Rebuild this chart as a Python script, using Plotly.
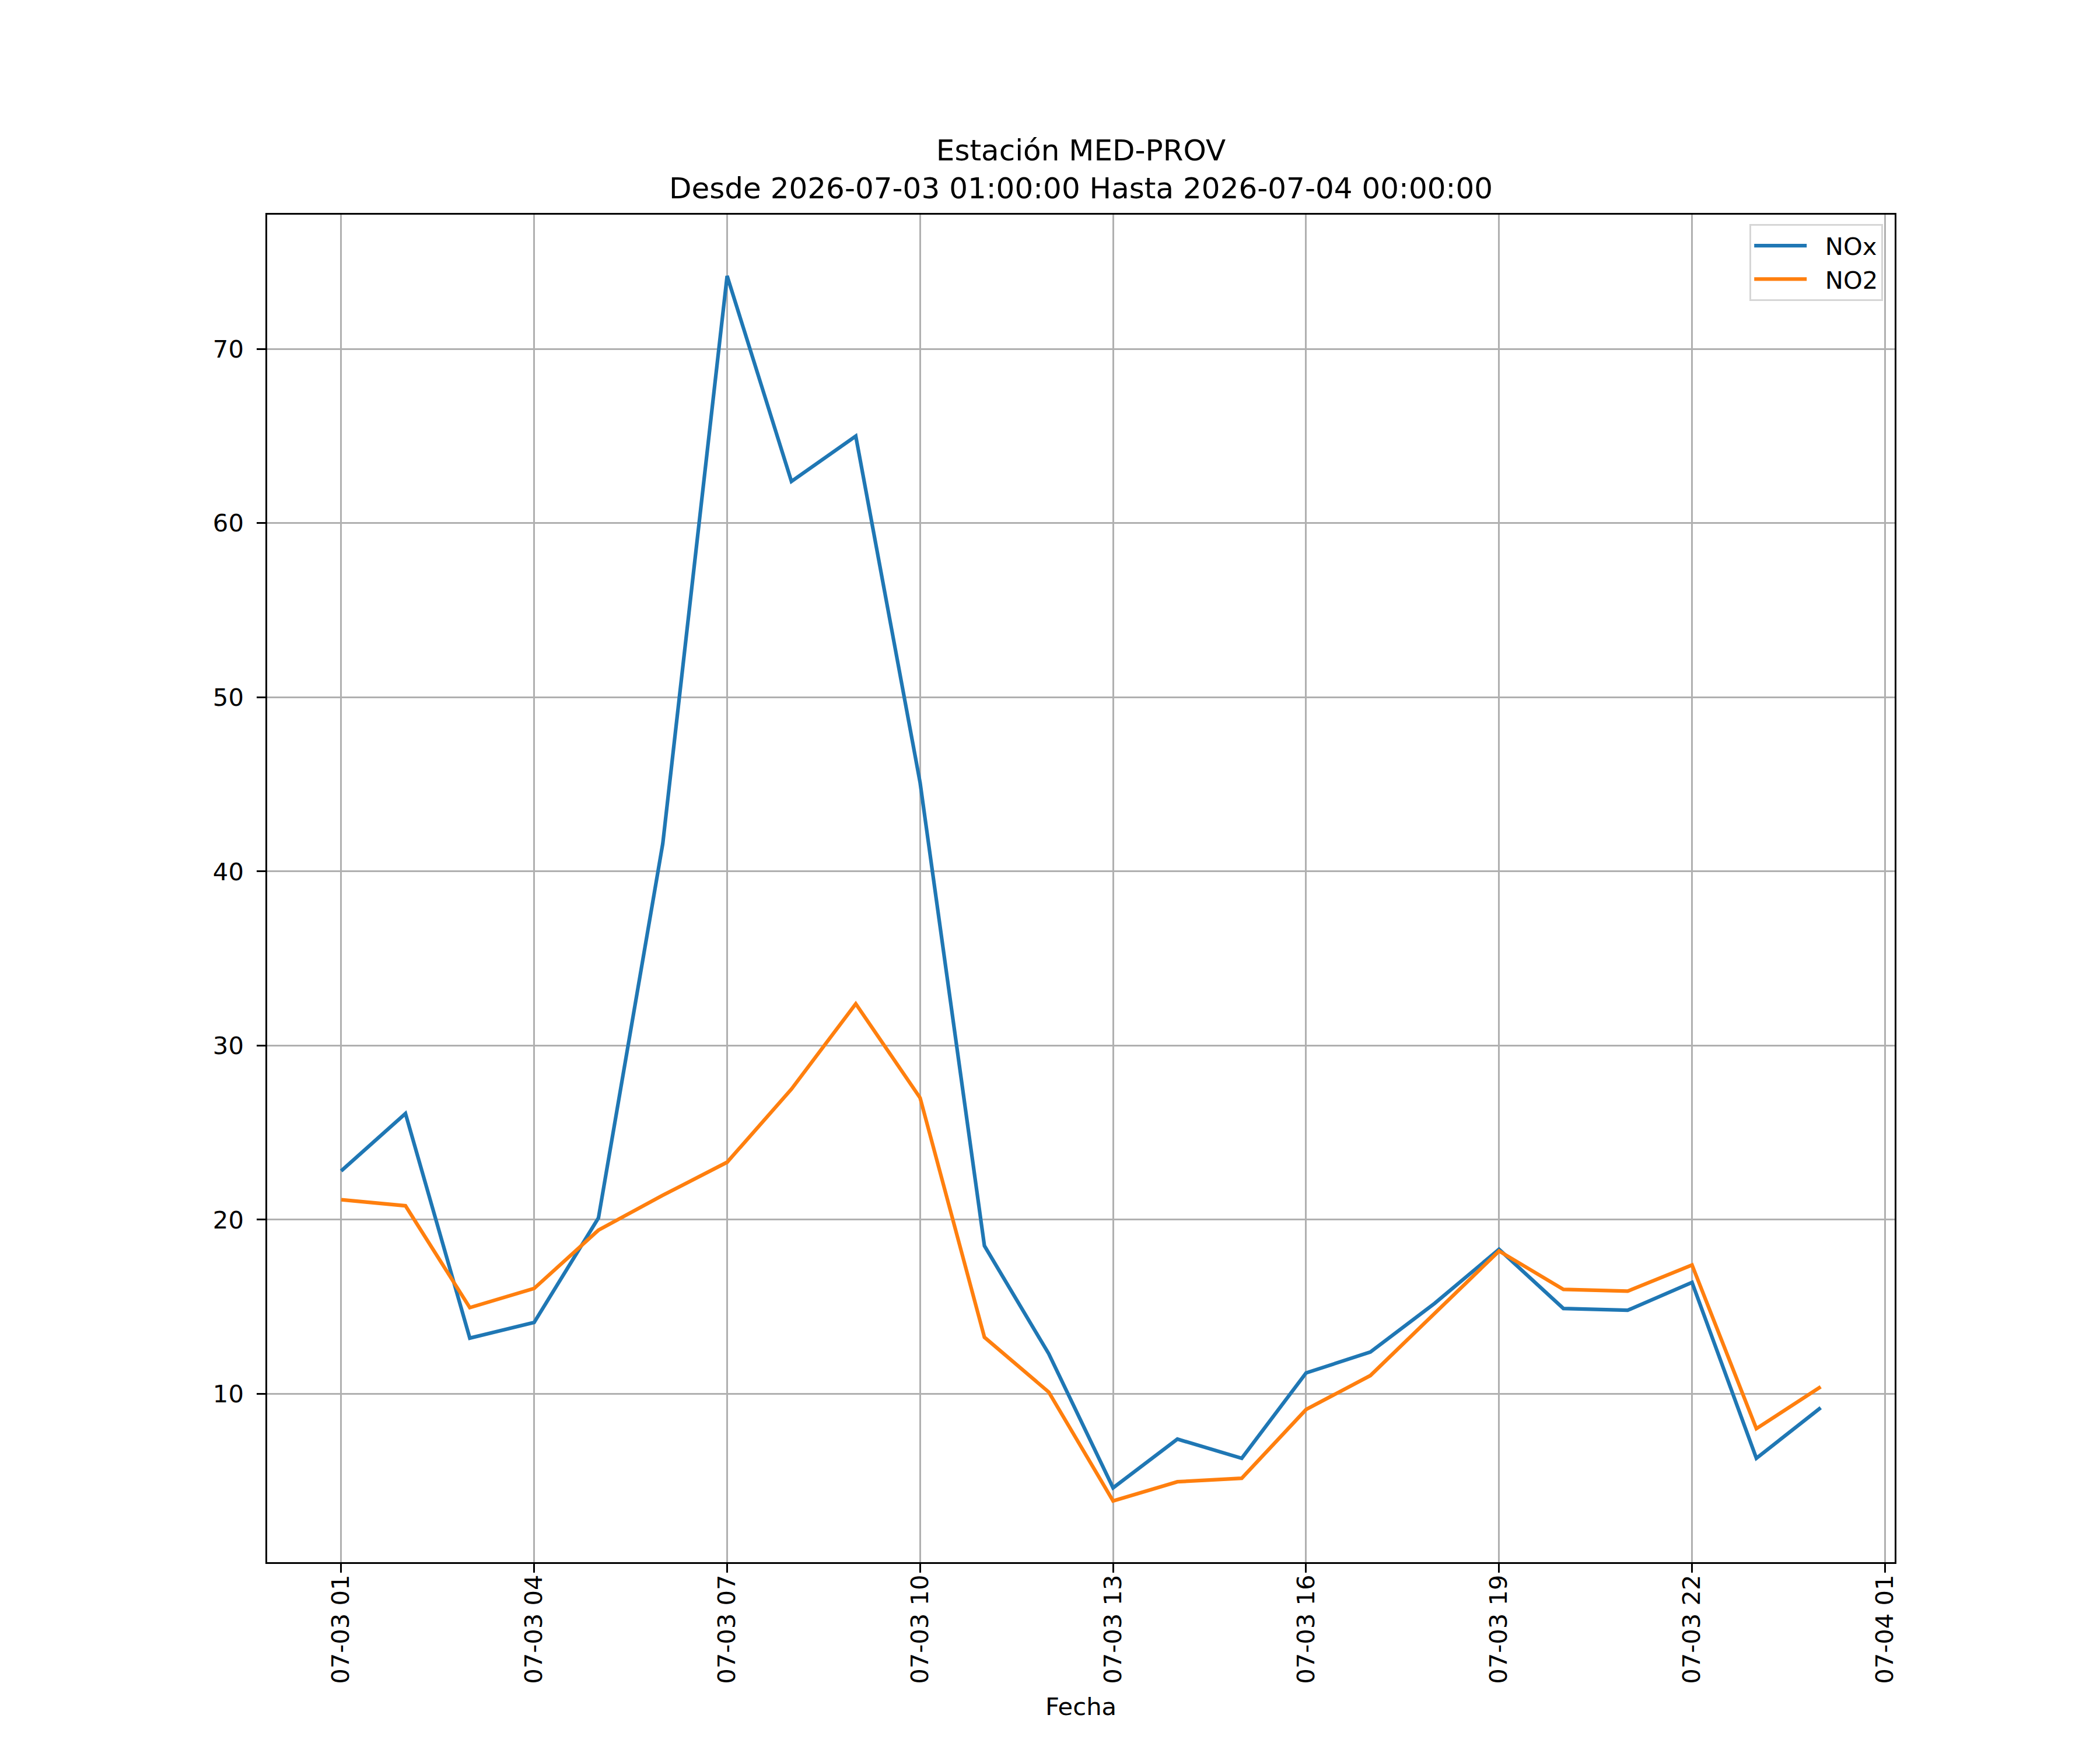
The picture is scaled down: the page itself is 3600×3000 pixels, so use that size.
import pandas as pd
import plotly.graph_objects as go

# -----------------------------
# Data (hourly readings, station MED-PROV)
# -----------------------------
horas = pd.date_range("2026-07-03 01:00", periods=24, freq="h")

nox = [22.8, 26.1, 13.2, 14.1, 20.1, 41.6, 74.2, 62.4, 65.0, 45.1, 18.5, 12.3,
       4.6, 7.4, 6.3, 11.2, 12.4, 15.2, 18.3, 14.9, 14.8, 16.4, 6.3, 9.2]
no2 = [21.15, 20.8, 14.95, 16.05, 19.4, 21.4, 23.3, 27.5, 32.4, 27.0, 13.25, 10.1,
       3.85, 4.95, 5.15, 9.1, 11.05, 14.6, 18.2, 16.0, 15.9, 17.4, 8.0, 10.4]

y_ticks = [10, 20, 30, 40, 50, 60, 70]

titulo = "Estación MED-PROV<br>Desde 2026-07-03 01:00:00 Hasta 2026-07-04 00:00:00"

# -----------------------------
# Figure
# -----------------------------
fig = go.Figure()
# non-breaking spaces just widen the gap between legend line and label
fig.add_trace(go.Scatter(x=horas, y=nox, mode="lines", name="\u00a0\u00a0NOx",
                         line=dict(color="#1f77b4", width=6.25)))
fig.add_trace(go.Scatter(x=horas, y=no2, mode="lines", name="\u00a0\u00a0NO2",
                         line=dict(color="#ff7f0e", width=6.25)))

# matplotlib-like 5% margins
span = horas[-1] - horas[0]
x_range = [horas[0] - span * 0.05, horas[-1] + span * 0.05]
lo = min(min(nox), min(no2))
hi = max(max(nox), max(no2))
y_range = [lo - (hi - lo) * 0.05, hi + (hi - lo) * 0.05]

axis_common = dict(
    showline=True, linecolor="black", linewidth=3.3, mirror=True,
    showgrid=True, gridcolor="#b0b0b0", gridwidth=3.3,
    ticks="outside", ticklen=14.6, tickwidth=3.3, tickcolor="black",
    zeroline=False,
    tickfont=dict(family="DejaVu Sans", size=41.7, color="black"),
)

fig.update_xaxes(
    range=x_range,
    tick0="2026-07-03 01:00", dtick=3 * 3600 * 1000,
    tickformat="%m-%d %H", tickangle=-90,
    ticklabelstandoff=-13,
    title=dict(text="Fecha", standoff=25,
               font=dict(family="DejaVu Sans", size=41.7, color="black")),
    **axis_common,
)
fig.update_yaxes(
    range=y_range, tickvals=y_ticks,
    ticklabelstandoff=14,
    **axis_common,
)

fig.update_layout(
    width=3600, height=3000,
    margin=dict(l=450, r=360, t=360, b=330, autoexpand=False),
    paper_bgcolor="white", plot_bgcolor="white",
    font=dict(family="DejaVu Sans", size=41.7, color="black"),
    title=dict(text=titulo, x=0.5, xref="paper", xanchor="center",
               y=1 - 267 / 3000, yref="container", yanchor="bottom",
               font=dict(family="DejaVu Sans", size=50, color="black")),
    legend=dict(x=0.9928, y=0.993, xanchor="right", yanchor="top",
                bordercolor="#d6d6d6", borderwidth=3.3, bgcolor="white",
                itemwidth=90,
                font=dict(family="DejaVu Sans", size=41.7, color="black")),
    showlegend=True,
)

fig.write_html("out.html")
